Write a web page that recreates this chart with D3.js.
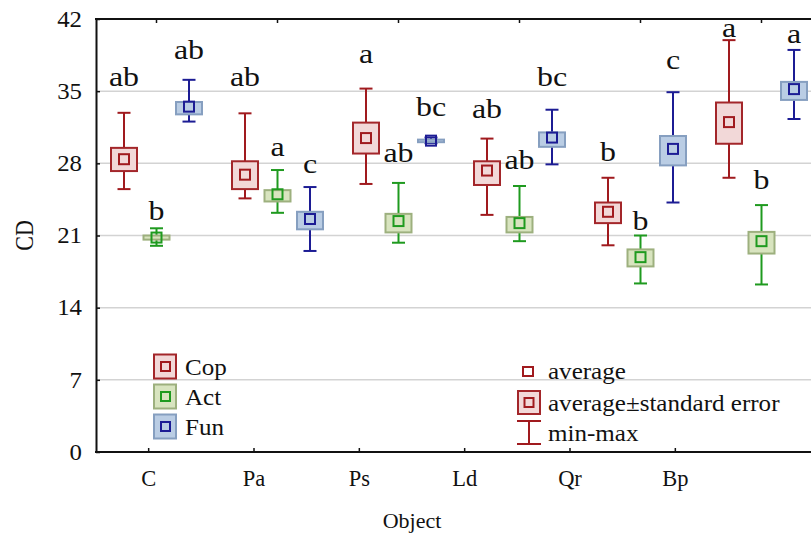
<!DOCTYPE html>
<html>
<head>
<meta charset="utf-8">
<script src="https://cdn.jsdelivr.net/npm/d3@7"></script>
<style>
  body { margin: 0; background: #fff; }
  text { font-family: "Liberation Serif", "Times New Roman", serif; fill: #111; }
</style>
</head>
<body>
<svg id="chart" width="811" height="534"></svg>
<script>
const categories = ["C", "Pa", "Ps", "Ld", "Qr", "Bp"];
const seriesNames = ["Cop", "Act", "Fun"];
const yTicks = [0, 7, 14, 21, 28, 35, 42];

const copMean   = [28.4, 26.9, 30.45, 27.3, 23.3, 32.0];
const copSeLow  = [27.25, 25.5, 28.95, 25.9, 22.2, 29.9];
const copSeHigh = [29.5, 28.2, 31.95, 28.2, 24.2, 33.9];
const copMin    = [25.5, 24.6, 26.0, 23.0, 20.05, 26.6];
const copMax    = [32.9, 32.85, 35.25, 30.4, 26.6, 39.95];

const actMean   = [20.8, 25.0, 22.4, 22.2, 18.9, 20.45];
const actSeLow  = [20.6, 24.3, 21.3, 21.3, 18.0, 19.25];
const actSeHigh = [21.0, 25.4, 23.1, 22.8, 19.65, 21.35];
const actMin    = [20.0, 23.2, 20.3, 20.45, 16.35, 16.25];
const actMax    = [21.7, 27.35, 26.1, 25.8, 21.0, 23.95];

const funMean   = [33.5, 22.6, 30.2, 30.5, 29.4, 35.2];
const funSeLow  = [32.75, 21.6, 30.05, 29.6, 27.8, 34.15];
const funSeHigh = [33.95, 23.3, 30.3, 31.0, 30.65, 35.9];
const funMin    = [32.05, 19.5, 29.95, 27.9, 24.2, 32.3];
const funMax    = [36.1, 25.7, 30.5, 33.2, 34.9, 39.0];

const copLetters = ["ab", "ab", "a", "ab", "b", "a"];
const actLetters = ["b", "a", "ab", "ab", "b", "b"];
const funLetters = ["ab", "c", "bc", "bc", "c", "a"];
// value (CD units) at which each letter's baseline sits
const copLetterAt = [35.46, 35.46, 37.69, 32.37, 28.22, 40.3];
const actLetterAt = [22.49, 28.71, 28.16, 27.42, 21.58, 25.54];
const funLetterAt = [38.11, 27.1, 32.6, 35.5, 37.14, 39.67];

const seriesData = [
  { name: "Cop", mean: copMean, lo: copSeLow, hi: copSeHigh, min: copMin, max: copMax, letters: copLetters, letterAt: copLetterAt },
  { name: "Act", mean: actMean, lo: actSeLow, hi: actSeHigh, min: actMin, max: actMax, letters: actLetters, letterAt: actLetterAt },
  { name: "Fun", mean: funMean, lo: funSeLow, hi: funSeHigh, min: funMin, max: funMax, letters: funLetters, letterAt: funLetterAt }
];

const style = {
  Cop: { line: "#a01a1e", fill: "#f2d8d8", border: "#a3262a" },
  Act: { line: "#1f9a1f", fill: "#d8e4bf", border: "#9db07e" },
  Fun: { line: "#1c1c94", fill: "#bacde4", border: "#869fc0" }
};

const svg = d3.select("#chart");
const plotLeft = 96, plotTop = 19, plotBottom = 452;

const y = d3.scaleLinear().domain([0, 42]).range([plotBottom, plotTop]);
const xGroup = d3.scaleBand().domain(categories).range([plotLeft, 822]).padding(0);
const xLabel = d3.scaleBand().domain(categories).range([plotLeft, 728]).padding(0);
const xSeries = d3.scalePoint().domain(seriesNames).range([-32.5, 32.5]);

// gridlines
svg.append("g").selectAll("line")
  .data(yTicks.filter(t => t > 0 && t < 42))
  .join("line")
  .attr("x1", plotLeft).attr("x2", 811)
  .attr("y1", d => y(d)).attr("y2", d => y(d))
  .attr("stroke", "#d3d3d3").attr("stroke-width", 1.5);

// axes
const yAxis = svg.append("g").attr("transform", `translate(${plotLeft},0)`)
  .call(d3.axisRight(y).tickValues(yTicks).tickSize(4).tickSizeOuter(0).tickFormat(""));
yAxis.select(".domain").attr("stroke", "#111").attr("stroke-width", 2);
yAxis.selectAll(".tick line").attr("stroke", "#111").attr("stroke-width", 1.5);

const xAxisBottom = svg.append("g").attr("transform", `translate(0,${plotBottom})`)
  .call(d3.axisTop(xLabel).tickSize(4).tickSizeOuter(0).tickFormat(""));
xAxisBottom.select(".domain").remove();
xAxisBottom.selectAll(".tick line").attr("stroke", "#111").attr("stroke-width", 1.5);
svg.append("line").attr("x1", plotLeft - 1).attr("x2", 811).attr("y1", plotBottom).attr("y2", plotBottom)
  .attr("stroke", "#111").attr("stroke-width", 2);

const xAxisTop = svg.append("g").attr("transform", `translate(0,${plotTop})`)
  .call(d3.axisBottom(xGroup).tickSize(4).tickSizeOuter(0).tickFormat(""));
xAxisTop.select(".domain").remove();
xAxisTop.selectAll(".tick line").attr("stroke", "#111").attr("stroke-width", 1.5);
svg.append("line").attr("x1", plotLeft - 1).attr("x2", 811).attr("y1", plotTop).attr("y2", plotTop)
  .attr("stroke", "#111").attr("stroke-width", 2);

// tick labels
svg.append("g").selectAll("text").data(yTicks).join("text")
  .attr("transform", d => `translate(82,${y(d)}) scale(1.08,1)`)
  .attr("text-anchor", "end").attr("dominant-baseline", "central")
  .attr("font-size", 23).text(d => d);

svg.append("g").selectAll("text").data(categories).join("text")
  .attr("transform", d => `translate(${xLabel(d) + xLabel.bandwidth() / 2},486)`)
  .attr("text-anchor", "middle").attr("font-size", 22.5).text(d => d);

svg.append("text")
  .attr("transform", `translate(${plotLeft + (728 - plotLeft) / 2},528)`)
  .attr("text-anchor", "middle").attr("font-size", 22).text("Object");

svg.append("text")
  .attr("transform", `translate(33,${(plotTop + plotBottom) / 2}) scale(1.15,1) rotate(-90)`)
  .attr("text-anchor", "middle").attr("font-size", 22).text("CD");

// boxes
const BW = 26, CAP = 13, MS = 10;
const marks = svg.append("g");
seriesData.forEach(s => {
  const st = style[s.name];
  categories.forEach((c, i) => {
    const cx = xGroup(c) + xGroup.bandwidth() / 2 + xSeries(s.name);
    const g = marks.append("g");
    // whiskers
    g.append("line").attr("x1", cx).attr("x2", cx).attr("y1", y(s.max[i])).attr("y2", y(s.min[i]))
      .attr("stroke", st.line).attr("stroke-width", 2);
    [s.max[i], s.min[i]].forEach(v => {
      g.append("line").attr("x1", cx - CAP / 2).attr("x2", cx + CAP / 2)
        .attr("y1", y(v)).attr("y2", y(v)).attr("stroke", st.line).attr("stroke-width", 2);
    });
    // SE box
    g.append("rect").attr("x", cx - BW / 2).attr("width", BW)
      .attr("y", y(s.hi[i])).attr("height", Math.max(0.5, y(s.lo[i]) - y(s.hi[i])))
      .attr("fill", st.fill).attr("stroke", st.border).attr("stroke-width", 2);
    // mean square
    g.append("rect").attr("x", cx - MS / 2).attr("y", y(s.mean[i]) - MS / 2)
      .attr("width", MS).attr("height", MS)
      .attr("fill", "none").attr("stroke", st.line).attr("stroke-width", 2);
    // letter
    svg.append("text")
      .attr("transform", `translate(${cx},${y(s.letterAt[i])}) scale(1.14,1)`)
      .attr("text-anchor", "middle").attr("font-size", 28).text(s.letters[i]);
  });
});

// legend (series)
const LSX = 1.09, LFS = 23;
const leg = svg.append("g");
seriesData.forEach((s, k) => {
  const st = style[s.name];
  const cy = 366.5 + k * 30;
  leg.append("rect").attr("x", 154).attr("y", cy - 12).attr("width", 22).attr("height", 24)
    .attr("fill", st.fill).attr("stroke", st.border).attr("stroke-width", 2);
  leg.append("rect").attr("x", 161).attr("y", cy - 4.5).attr("width", 9).attr("height", 9)
    .attr("fill", "none").attr("stroke", st.line).attr("stroke-width", 2);
  leg.append("text").attr("transform", `translate(185,${cy + 8.5}) scale(${LSX},1)`)
    .attr("font-size", LFS).text(s.name);
});

// legend (marks)
const cst = style.Cop;
const l2 = svg.append("g");
l2.append("rect").attr("x", 523).attr("y", 367).attr("width", 10).attr("height", 9)
  .attr("fill", "none").attr("stroke", cst.line).attr("stroke-width", 2);
l2.append("text").attr("transform", `translate(548,379) scale(${LSX},1)`)
  .attr("font-size", LFS).text("average");
l2.append("rect").attr("x", 518).attr("y", 391).attr("width", 22).attr("height", 23)
  .attr("fill", cst.fill).attr("stroke", cst.border).attr("stroke-width", 2);
l2.append("rect").attr("x", 524.5).attr("y", 398).attr("width", 9).attr("height", 9)
  .attr("fill", "none").attr("stroke", cst.line).attr("stroke-width", 2);
l2.append("text").attr("transform", `translate(548,410.5) scale(${LSX},1)`)
  .attr("font-size", LFS).text("average±standard error");
l2.append("line").attr("x1", 529).attr("x2", 529).attr("y1", 421).attr("y2", 444)
  .attr("stroke", cst.line).attr("stroke-width", 2);
[421, 444].forEach(v => l2.append("line").attr("x1", 517).attr("x2", 541)
  .attr("y1", v).attr("y2", v).attr("stroke", cst.line).attr("stroke-width", 2));
l2.append("text").attr("transform", `translate(548,441) scale(${LSX},1)`)
  .attr("font-size", LFS).text("min-max");
</script>
</body>
</html>
